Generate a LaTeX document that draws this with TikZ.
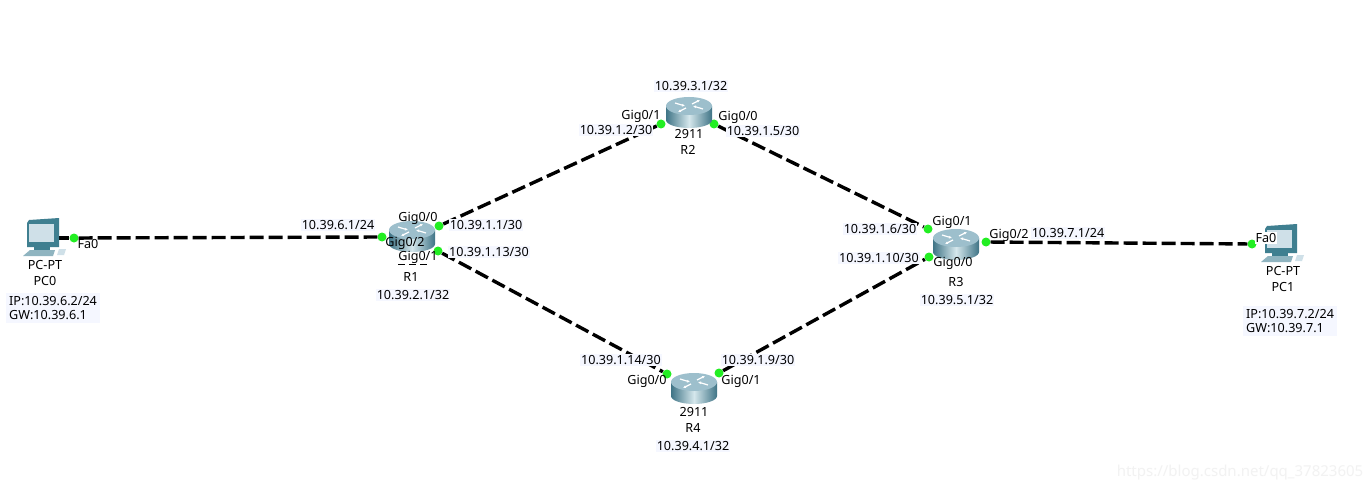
\documentclass[tikz,border=0pt]{standalone}
\usepackage{fontspec}
\usetikzlibrary{arrows.meta}
\setmainfont{Noto Sans}
\definecolor{lblbg}{HTML}{F5F7FF}
\definecolor{portgreen}{HTML}{22EE22}
\definecolor{rtrtop}{HTML}{9DBFCC}
\definecolor{rtrdark}{HTML}{3F7486}
\definecolor{rtrlight}{HTML}{D5E7EC}
\definecolor{pcframe}{HTML}{3F7F90}
\definecolor{pcscreen}{HTML}{CFE0E8}
\definecolor{pckeys}{HTML}{8FB4C0}

% router icon, drawn over an empty named node
\newcommand{\routericon}[1]{
\begin{scope}[shift={(#1.center)}]
\shade[left color=rtrdark, right color=rtrdark, middle color=rtrlight]
  (-23,-6) -- (-23,8) arc[start angle=180, end angle=0, x radius=23, y radius=8] -- (23,-6) -- cycle;
\fill[rtrtop] (0,-6) ellipse[x radius=23, y radius=9];
\draw[white, line width=1.2pt, -{Latex[length=3pt,width=3pt]}] (-14,-9) -- (-4,-6);
\draw[white, line width=1.2pt, -{Latex[length=3pt,width=3pt]}] (14,-3) -- (4,-6);
\draw[white, line width=1.2pt, -{Latex[length=3pt,width=3pt]}] (-3,-4) -- (-11,0);
\draw[white, line width=1.2pt, -{Latex[length=3pt,width=3pt]}] (3,-8) -- (11,-12);
\end{scope}
}

% computer icon, drawn over an empty named node
\newcommand{\pcicon}[1]{
\begin{scope}[shift={(#1.center)}]
\fill[pcframe] (-15,-15) -- (-13,-18) -- (17,-20) -- (17,9) -- (-15,9) -- cycle;
\fill[pcscreen] (-13,-14) rectangle (12,4);
\fill[pckeys] (-12,12) -- (13,12) -- (11,18) -- (-19,18) -- cycle;
\fill[pcframe] (-8,9) rectangle (8,12);
\fill[pcscreen] (17,11) -- (24,11) -- (22,17) -- (15,17) -- cycle;
\end{scope}
}

\begin{document}
\begin{tikzpicture}[
x=1pt, y=-1pt,
font=\fontsize{12.6}{14}\selectfont,
device/.style={minimum width=46pt, minimum height=30pt, inner sep=0pt},
pc/.style={minimum width=34pt, minimum height=30pt, inner sep=0pt},
port/.style={circle, fill=portgreen, inner sep=0pt, minimum size=9pt},
link/.style={line width=3.4pt, dash pattern=on 14pt off 5pt},
wire/.style={line width=3.4pt},
lbl/.style={inner sep=1pt, text=black},
addr/.style={lbl, fill=lblbg},
note/.style={addr, align=left, inner sep=3pt}
]
\useasboundingbox (0,0) rectangle (1371,492);
\fill[white] (0,0) rectangle (1371,492);

% ---------- DEVICES ----------
\node[pc] (PC0) at (42,238) {};
\node[device] (R1) at (412,236) {};
\node[device] (R2) at (689,112) {};
\node[device] (R3) at (956,244) {};
\node[device] (R4) at (694,388) {};
\node[pc] (PC1) at (1280,244) {};

% ports
\node[port] (pc0fa) at (74,238) {};
\node[port] (r1g2) at (382,237) {};
\node[port] (r1g0) at (439,226) {};
\node[port] (r1g1) at (438,251) {};
\node[port] (r2g1) at (661,124) {};
\node[port] (r2g0) at (714,124) {};
\node[port] (r3g1) at (928,229) {};
\node[port] (r3g0) at (929,257) {};
\node[port] (r3g2) at (986,242) {};
\node[port] (r4g0) at (667,374) {};
\node[port] (r4g1) at (719,373) {};
\node[port] (pc1fa) at (1252,244) {};

% connections
\draw[wire] (PC0.east) -- (pc0fa);
\draw[link] (pc0fa) -- (r1g2);
\draw[link] (r1g0) -- (r2g1);
\draw[link] (r2g0) -- (r3g1);
\draw[link] (r1g1) -- (r4g0);
\draw[link] (r4g1) -- (r3g0);
\draw[link] (r3g2) -- (pc1fa);

% icons
\pcicon{PC0}
\pcicon{PC1}
\routericon{R1}
\routericon{R2}
\routericon{R3}
\routericon{R4}

% ---------- LEFT: PC0 ----------
\node[lbl] (fa0a) at (88,244) {Fa0};
\node[lbl] (pt0) at (45,265) {PC-PT};
\node[lbl] (name0) at (45,281) {PC0};
\node[note, anchor=north west] (ip0) at (6,293) {IP:10.39.6.2/24\\GW:10.39.6.1};

% ---------- R1 ----------
\node[addr] (a61) at (338,225) {10.39.6.1/24};
\node[lbl] (r1l0) at (418,218) {Gig0/0};
\node[lbl] (r1l2) at (405,243) {Gig0/2};
\node[lbl] (r1l1) at (418,257) {Gig0/1};
\node[addr] (a11) at (486,225) {10.39.1.1/30};
\node[addr] (a113) at (489,252) {10.39.1.13/30};
\node[lbl] (name1) at (411,277) {R1};
\node[addr] (a21) at (413,295) {10.39.2.1/32};
\coordinate (ula) at (398,264);
\coordinate (ulb) at (428,264);
\draw[dash pattern=on 7pt off 4pt] (ula) -- (ulb);

% ---------- R2 ----------
\node[addr] (a31) at (691,86) {10.39.3.1/32};
\node[lbl] (r2l1) at (641,116) {Gig0/1};
\node[addr] (a12) at (616,130) {10.39.1.2/30};
\node[lbl] (r2l0) at (738,117) {Gig0/0};
\node[addr] (a15) at (763,131) {10.39.1.5/30};
\node[lbl] (m2) at (689,134) {2911};
\node[lbl] (name2) at (688,150) {R2};

% ---------- R3 ----------
\node[lbl] (r3l1) at (952,222) {Gig0/1};
\node[addr] (a16) at (880,229) {10.39.1.6/30};
\node[addr] (a110) at (879,258) {10.39.1.10/30};
\node[lbl] (r3l0) at (953,263) {Gig0/0};
\node[lbl] (r3l2) at (1009,235) {Gig0/2};
\node[addr] (a71) at (1068,233) {10.39.7.1/24};
\node[lbl] (name3) at (956,282) {R3};
\node[addr] (a51) at (957,300) {10.39.5.1/32};

% ---------- R4 ----------
\node[addr] (a114) at (621,360) {10.39.1.14/30};
\node[addr] (a19) at (758,360) {10.39.1.9/30};
\node[lbl] (r4l0) at (647,381) {Gig0/0};
\node[lbl] (r4l1) at (741,381) {Gig0/1};
\node[lbl] (m4) at (694,412) {2911};
\node[lbl] (name4) at (693,428) {R4};
\node[addr] (a41) at (693,446) {10.39.4.1/32};

% ---------- RIGHT: PC1 ----------
\node[lbl, fill=white] (fa0b) at (1266,238) {Fa0};
\node[lbl] (pt1) at (1283,271) {PC-PT};
\node[lbl] (name5) at (1283,287) {PC1};
\node[note, anchor=north west] (ip1) at (1243,306) {IP:10.39.7.2/24\\GW:10.39.7.1};

% watermark
\node[text=black!5, font=\fontsize{15}{18}\selectfont] (mark) at (1240,473) {https://blog.csdn.net/qq\_37823605};

\end{tikzpicture}
\end{document}
